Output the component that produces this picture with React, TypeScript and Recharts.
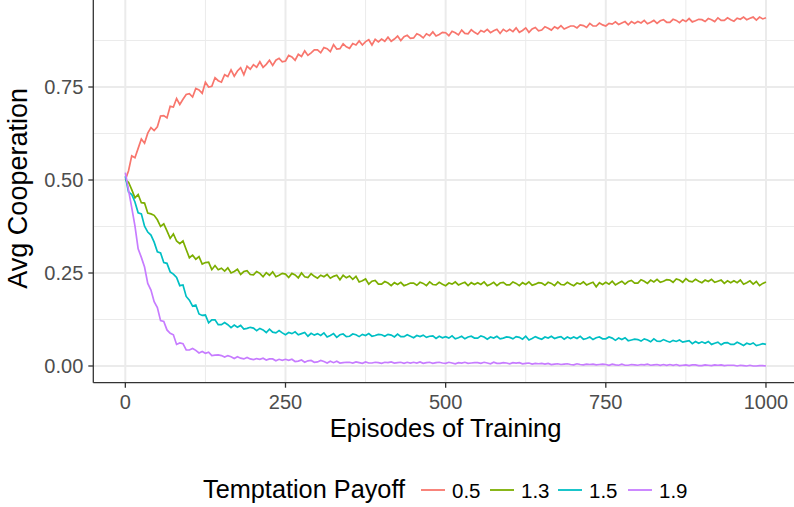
import React from 'react';
import { LineChart, Line, XAxis, YAxis, CartesianGrid } from 'recharts';

const episodes = [
  0, 5, 10, 15, 20, 25, 30, 35, 40, 45,
  50, 55, 60, 65, 70, 75, 80, 85, 90, 95,
  100, 105, 110, 115, 120, 125, 130, 135, 140, 145,
  150, 155, 160, 165, 170, 175, 180, 185, 190, 195,
  200, 205, 210, 215, 220, 225, 230, 235, 240, 245,
  250, 255, 260, 265, 270, 275, 280, 285, 290, 295,
  300, 305, 310, 315, 320, 325, 330, 335, 340, 345,
  350, 355, 360, 365, 370, 375, 380, 385, 390, 395,
  400, 405, 410, 415, 420, 425, 430, 435, 440, 445,
  450, 455, 460, 465, 470, 475, 480, 485, 490, 495,
  500, 505, 510, 515, 520, 525, 530, 535, 540, 545,
  550, 555, 560, 565, 570, 575, 580, 585, 590, 595,
  600, 605, 610, 615, 620, 625, 630, 635, 640, 645,
  650, 655, 660, 665, 670, 675, 680, 685, 690, 695,
  700, 705, 710, 715, 720, 725, 730, 735, 740, 745,
  750, 755, 760, 765, 770, 775, 780, 785, 790, 795,
  800, 805, 810, 815, 820, 825, 830, 835, 840, 845,
  850, 855, 860, 865, 870, 875, 880, 885, 890, 895,
  900, 905, 910, 915, 920, 925, 930, 935, 940, 945,
  950, 955, 960, 965, 970, 975, 980, 985, 990, 995,
  1000,
];

const payoff05 = [
  0.500, 0.525, 0.565, 0.560, 0.585, 0.610, 0.599, 0.626, 0.641, 0.633,
  0.643, 0.672, 0.673, 0.667, 0.698, 0.696, 0.719, 0.703, 0.717, 0.730,
  0.732, 0.723, 0.746, 0.742, 0.733, 0.763, 0.750, 0.752, 0.775, 0.767,
  0.763, 0.783, 0.778, 0.796, 0.779, 0.793, 0.802, 0.783, 0.806, 0.798,
  0.810, 0.803, 0.818, 0.803, 0.811, 0.822, 0.808, 0.822, 0.827, 0.818,
  0.820, 0.835, 0.831, 0.822, 0.838, 0.832, 0.847, 0.835, 0.842, 0.850,
  0.850, 0.842, 0.856, 0.853, 0.845, 0.864, 0.852, 0.853, 0.866, 0.858,
  0.854, 0.867, 0.863, 0.874, 0.863, 0.872, 0.877, 0.863, 0.878, 0.871,
  0.879, 0.873, 0.884, 0.873, 0.879, 0.887, 0.875, 0.885, 0.889, 0.881,
  0.882, 0.893, 0.889, 0.882, 0.893, 0.888, 0.898, 0.887, 0.891, 0.897,
  0.896, 0.888, 0.900, 0.896, 0.890, 0.903, 0.894, 0.893, 0.904, 0.897,
  0.892, 0.902, 0.898, 0.905, 0.896, 0.901, 0.905, 0.894, 0.905, 0.899,
  0.905, 0.899, 0.909, 0.897, 0.902, 0.909, 0.897, 0.906, 0.910, 0.901,
  0.903, 0.912, 0.908, 0.903, 0.912, 0.907, 0.915, 0.906, 0.910, 0.914,
  0.914, 0.909, 0.917, 0.915, 0.910, 0.921, 0.914, 0.914, 0.922, 0.917,
  0.914, 0.921, 0.919, 0.925, 0.918, 0.922, 0.926, 0.917, 0.926, 0.921,
  0.926, 0.922, 0.929, 0.920, 0.924, 0.929, 0.921, 0.928, 0.931, 0.924,
  0.924, 0.932, 0.929, 0.923, 0.931, 0.926, 0.934, 0.925, 0.928, 0.932,
  0.931, 0.926, 0.934, 0.931, 0.926, 0.936, 0.929, 0.929, 0.936, 0.931,
  0.927, 0.935, 0.932, 0.938, 0.931, 0.935, 0.938, 0.930, 0.938, 0.933,
  0.936,
];

const payoff13 = [
  0.500, 0.494, 0.474, 0.452, 0.461, 0.439, 0.438, 0.411, 0.409, 0.405,
  0.393, 0.375, 0.382, 0.363, 0.343, 0.355, 0.336, 0.329, 0.336, 0.313,
  0.291, 0.298, 0.287, 0.294, 0.274, 0.278, 0.279, 0.259, 0.270, 0.259,
  0.263, 0.255, 0.264, 0.250, 0.254, 0.260, 0.246, 0.254, 0.256, 0.246,
  0.245, 0.254, 0.249, 0.240, 0.251, 0.244, 0.253, 0.240, 0.244, 0.249,
  0.247, 0.238, 0.249, 0.245, 0.237, 0.250, 0.240, 0.238, 0.248, 0.241,
  0.236, 0.244, 0.240, 0.246, 0.236, 0.241, 0.244, 0.232, 0.244, 0.237,
  0.242, 0.233, 0.241, 0.226, 0.229, 0.234, 0.220, 0.228, 0.230, 0.220,
  0.220, 0.227, 0.223, 0.216, 0.224, 0.219, 0.225, 0.216, 0.219, 0.223,
  0.223, 0.217, 0.225, 0.222, 0.216, 0.226, 0.219, 0.218, 0.225, 0.220,
  0.216, 0.223, 0.220, 0.226, 0.218, 0.222, 0.225, 0.216, 0.224, 0.219,
  0.224, 0.219, 0.226, 0.216, 0.220, 0.225, 0.216, 0.223, 0.225, 0.218,
  0.218, 0.226, 0.222, 0.216, 0.224, 0.219, 0.226, 0.217, 0.220, 0.224,
  0.223, 0.217, 0.225, 0.222, 0.216, 0.226, 0.219, 0.218, 0.225, 0.220,
  0.216, 0.223, 0.220, 0.226, 0.218, 0.222, 0.225, 0.213, 0.224, 0.219,
  0.225, 0.220, 0.228, 0.218, 0.223, 0.228, 0.220, 0.227, 0.230, 0.223,
  0.223, 0.232, 0.228, 0.222, 0.231, 0.226, 0.233, 0.225, 0.228, 0.232,
  0.231, 0.225, 0.234, 0.231, 0.225, 0.235, 0.228, 0.226, 0.233, 0.228,
  0.224, 0.231, 0.227, 0.233, 0.225, 0.228, 0.231, 0.222, 0.229, 0.224,
  0.229, 0.224, 0.231, 0.220, 0.224, 0.229, 0.220, 0.227, 0.216, 0.222,
  0.226,
];

const payoff15 = [
  0.510, 0.468, 0.461, 0.441, 0.412, 0.409, 0.376, 0.360, 0.352, 0.333,
  0.307, 0.304, 0.278, 0.276, 0.253, 0.247, 0.238, 0.216, 0.218, 0.187,
  0.177, 0.161, 0.164, 0.140, 0.136, 0.137, 0.116, 0.124, 0.124, 0.111,
  0.111, 0.117, 0.111, 0.103, 0.110, 0.104, 0.109, 0.099, 0.101, 0.104,
  0.102, 0.095, 0.101, 0.097, 0.090, 0.099, 0.091, 0.089, 0.095, 0.089,
  0.084, 0.090, 0.087, 0.092, 0.084, 0.087, 0.090, 0.080, 0.088, 0.083,
  0.087, 0.082, 0.089, 0.078, 0.082, 0.087, 0.077, 0.084, 0.086, 0.079,
  0.080, 0.086, 0.084, 0.079, 0.085, 0.082, 0.087, 0.080, 0.082, 0.085,
  0.084, 0.080, 0.085, 0.083, 0.078, 0.086, 0.079, 0.079, 0.084, 0.080,
  0.076, 0.082, 0.079, 0.083, 0.077, 0.080, 0.081, 0.074, 0.080, 0.076,
  0.079, 0.075, 0.081, 0.073, 0.076, 0.080, 0.073, 0.078, 0.080, 0.075,
  0.075, 0.081, 0.078, 0.072, 0.078, 0.075, 0.080, 0.073, 0.075, 0.078,
  0.077, 0.073, 0.079, 0.077, 0.072, 0.080, 0.070, 0.074, 0.079, 0.075,
  0.072, 0.078, 0.075, 0.080, 0.074, 0.077, 0.079, 0.072, 0.078, 0.074,
  0.078, 0.074, 0.080, 0.072, 0.074, 0.078, 0.071, 0.076, 0.078, 0.073,
  0.073, 0.078, 0.075, 0.069, 0.075, 0.071, 0.076, 0.068, 0.070, 0.072,
  0.071, 0.067, 0.073, 0.070, 0.065, 0.073, 0.067, 0.066, 0.071, 0.067,
  0.064, 0.069, 0.066, 0.070, 0.064, 0.066, 0.068, 0.060, 0.066, 0.061,
  0.065, 0.061, 0.066, 0.058, 0.061, 0.064, 0.057, 0.062, 0.063, 0.058,
  0.058, 0.064, 0.060, 0.055, 0.061, 0.058, 0.062, 0.055, 0.057, 0.060,
  0.058,
];

const payoff19 = [
  0.520, 0.473, 0.426, 0.377, 0.315, 0.292, 0.266, 0.222, 0.204, 0.173,
  0.157, 0.122, 0.120, 0.097, 0.088, 0.084, 0.058, 0.062, 0.060, 0.043,
  0.043, 0.047, 0.042, 0.035, 0.039, 0.034, 0.037, 0.028, 0.029, 0.030,
  0.028, 0.024, 0.028, 0.025, 0.020, 0.025, 0.021, 0.019, 0.023, 0.019,
  0.017, 0.020, 0.018, 0.021, 0.016, 0.019, 0.019, 0.014, 0.018, 0.015,
  0.018, 0.015, 0.018, 0.012, 0.013, 0.016, 0.010, 0.014, 0.015, 0.010,
  0.011, 0.015, 0.012, 0.008, 0.013, 0.009, 0.013, 0.008, 0.009, 0.010,
  0.010, 0.008, 0.011, 0.009, 0.007, 0.011, 0.008, 0.008, 0.010, 0.009,
  0.007, 0.010, 0.009, 0.011, 0.008, 0.009, 0.010, 0.007, 0.010, 0.008,
  0.010, 0.008, 0.011, 0.007, 0.009, 0.010, 0.007, 0.009, 0.010, 0.008,
  0.007, 0.010, 0.008, 0.006, 0.009, 0.008, 0.010, 0.007, 0.008, 0.009,
  0.009, 0.007, 0.010, 0.008, 0.006, 0.010, 0.007, 0.007, 0.009, 0.008,
  0.006, 0.009, 0.008, 0.009, 0.006, 0.007, 0.008, 0.005, 0.007, 0.006,
  0.007, 0.005, 0.007, 0.004, 0.005, 0.006, 0.004, 0.005, 0.006, 0.004,
  0.003, 0.006, 0.004, 0.003, 0.005, 0.004, 0.005, 0.003, 0.004, 0.005,
  0.004, 0.002, 0.005, 0.003, 0.002, 0.005, 0.002, 0.002, 0.004, 0.003,
  0.002, 0.004, 0.003, 0.005, 0.002, 0.003, 0.004, 0.002, 0.004, 0.002,
  0.004, 0.002, 0.004, 0.001, 0.002, 0.003, 0.001, 0.003, 0.003, 0.001,
  0.001, 0.003, 0.002, 0.001, 0.003, 0.002, 0.003, 0.001, 0.002, 0.002,
  0.002, 0.000, 0.002, 0.001, 0.000, 0.002, 0.000, 0.000, 0.001, 0.001,
  0.000,
];

const seriesKeys = ['p05', 'p13', 'p15', 'p19'];
const seriesNames = ['0.5', '1.3', '1.5', '1.9'];
const seriesColors = ['#F8766D', '#7CAE00', '#00BFC4', '#C77CFF'];
const seriesValues = [payoff05, payoff13, payoff15, payoff19];

const xTicks = [0, 250, 500, 750, 1000];
const xMinorTicks = [125, 375, 625, 875];
const yTicks = [0, 0.25, 0.5, 0.75];
const yMinorTicks = [0.125, 0.375, 0.625, 0.875];
const xDomain = [-50, 1050];
const yDomain = [-0.0449, 0.9839];

const xTitle = 'Episodes of Training';
const yTitle = 'Avg Cooperation';
const legendTitle = 'Temptation Payoff';

const data = episodes.map((ep, i) => {
  const row: Record<string, number> = { episode: ep };
  seriesKeys.forEach((k, j) => {
    row[k] = seriesValues[j][i];
  });
  return row;
});

const FONT = '"Liberation Sans", Arial, Helvetica, sans-serif';

const legendItemX = [421, 490, 558, 628];

export default function App() {
  return (
    <div style={{ position: 'absolute', left: 0, top: 0, width: 794, height: 507, overflow: 'hidden', background: '#fff' }}>
      <LineChart
        width={798}
        height={507}
        data={data}
        margin={{ top: 0, right: 0, bottom: 0, left: 0 }}
      >
        <CartesianGrid
          stroke="#EBEBEB"
          strokeWidth={1}
          horizontalValues={yMinorTicks}
          verticalValues={xMinorTicks}
        />
        <CartesianGrid
          stroke="#EBEBEB"
          strokeWidth={2}
          horizontalValues={yTicks}
          verticalValues={xTicks}
        />
        <XAxis
          dataKey="episode"
          type="number"
          domain={xDomain}
          ticks={xTicks}
          allowDataOverflow
          height={124.3}
          tickSize={5}
          tickMargin={7}
          axisLine={{ stroke: '#333333', strokeWidth: 1.3 }}
          tickLine={{ stroke: '#333333', strokeWidth: 1.3 }}
          tick={{ fill: '#4D4D4D', fontSize: 20, fontFamily: FONT }}
          label={{
            value: xTitle,
            position: 'insideTop',
            offset: 36,
            fill: '#000',
            fontSize: 25.6,
            fontFamily: FONT,
          }}
        />
        <YAxis
          type="number"
          domain={yDomain}
          ticks={yTicks}
          allowDataOverflow
          width={93.3}
          tickSize={5}
          tickMargin={5}
          tickFormatter={(v: number) => v.toFixed(2)}
          axisLine={{ stroke: '#333333', strokeWidth: 1.3 }}
          tickLine={{ stroke: '#333333', strokeWidth: 1.3 }}
          tick={{ fill: '#4D4D4D', fontSize: 20, fontFamily: FONT }}
          label={(props: any) => {
            const vb = props.viewBox || {};
            const cy = (vb.y ?? 0) + (vb.height ?? 0) / 2 - 3;
            return (
              <text
                x={27.5}
                y={cy}
                transform={`rotate(-90, 27.5, ${cy})`}
                textAnchor="middle"
                fill="#000"
                fontSize={27}
                fontFamily={FONT}
              >
                {yTitle}
              </text>
            );
          }}
        />
        {seriesKeys.map((k, j) => (
          <Line
            key={k}
            dataKey={k}
            name={seriesNames[j]}
            stroke={seriesColors[j]}
            strokeWidth={1.7}
            dot={false}
            type="linear"
            isAnimationActive={false}
          />
        ))}
      </LineChart>
      <svg
        width={794}
        height={40}
        style={{ position: 'absolute', left: 0, top: 470 }}
      >
        <text x={203} y={28} fontSize={25.3} fontFamily={FONT} fill="#000">
          {legendTitle}
        </text>
        {seriesNames.map((n, j) => (
          <g key={n}>
            <line
              x1={legendItemX[j]}
              x2={legendItemX[j] + 24}
              y1={20}
              y2={20}
              stroke={seriesColors[j]}
              strokeWidth={1.8}
            />
            <text x={legendItemX[j] + 31} y={28} fontSize={20.5} fontFamily={FONT} fill="#000">
              {n}
            </text>
          </g>
        ))}
      </svg>
    </div>
  );
}
